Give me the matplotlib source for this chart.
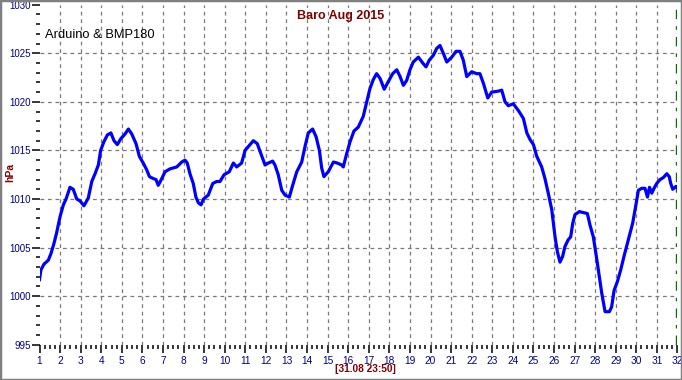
import matplotlib
matplotlib.use("Agg")
import matplotlib.pyplot as plt
from matplotlib.ticker import MultipleLocator
from matplotlib.patches import Rectangle

plt.rcParams['font.family'] = ['Liberation Sans', 'DejaVu Sans']

# day of month (fractional) and pressure in hPa
days = [1.0, 1.07, 1.22, 1.43, 1.56, 1.70, 1.83, 2.0, 2.16, 2.29, 2.48, 2.64, 2.81, 2.97,
        3.16, 3.37, 3.54, 3.70, 3.86, 3.97, 4.13, 4.30, 4.47, 4.62, 4.78, 4.95, 5.16, 5.32,
        5.48, 5.69, 5.85, 6.04, 6.21, 6.34, 6.53, 6.66, 6.77, 6.94, 7.10, 7.34, 7.67, 7.91,
        8.07, 8.18, 8.31, 8.47, 8.60, 8.72, 8.85, 8.97, 9.20, 9.42, 9.61, 9.77, 9.97, 10.22,
        10.42, 10.58, 10.82, 10.99, 11.23, 11.39, 11.58, 11.75, 11.96, 12.12, 12.33, 12.44,
        12.60, 12.77, 12.93, 13.14, 13.30, 13.50, 13.74, 13.90, 14.06, 14.27, 14.44, 14.60,
        14.71, 14.82, 15.03, 15.28, 15.47, 15.68, 15.76, 15.93, 16.09, 16.28, 16.49, 16.73,
        16.90, 17.06, 17.22, 17.38, 17.55, 17.75, 17.95, 18.16, 18.36, 18.52, 18.68, 18.84,
        19.0, 19.16, 19.41, 19.62, 19.78, 19.94, 20.14, 20.30, 20.46, 20.62, 20.79, 21.03,
        21.24, 21.43, 21.59, 21.76, 22.0, 22.24, 22.40, 22.57, 22.78, 22.97, 23.29, 23.46,
        23.62, 23.78, 24.02, 24.27, 24.51, 24.68, 24.84, 25.0, 25.16, 25.40, 25.56, 25.72,
        25.89, 26.05, 26.16, 26.29, 26.42, 26.53, 26.69, 26.81, 26.91, 27.02, 27.23, 27.42,
        27.62, 27.75, 27.91, 28.07, 28.20, 28.32, 28.48, 28.69, 28.80, 28.92, 29.08, 29.24,
        29.40, 29.61, 29.82, 29.98, 30.10, 30.26, 30.42, 30.54, 30.64, 30.75, 30.86, 30.99,
        31.15, 31.31, 31.48, 31.60, 31.67, 31.77, 31.93, 32.0]
hpa = [1001.7, 1002.7, 1003.3, 1003.7, 1004.4, 1005.4, 1006.5, 1008.2, 1009.4, 1010.0,
       1011.2, 1011.0, 1010.0, 1009.8, 1009.3, 1010.1, 1011.8, 1012.6, 1013.5, 1015.0,
       1015.9, 1016.6, 1016.8, 1016.0, 1015.6, 1016.2, 1016.7, 1017.2, 1016.7, 1015.7,
       1014.4, 1013.7, 1013.0, 1012.3, 1012.1, 1012.0, 1011.4, 1012.1, 1012.8, 1013.1,
       1013.3, 1013.8, 1014.0, 1013.7, 1012.6, 1011.6, 1010.2, 1009.6, 1009.4, 1010.0,
       1010.4, 1011.6, 1011.8, 1011.8, 1012.5, 1012.8, 1013.7, 1013.3, 1013.7, 1015.0,
       1015.6, 1016.0, 1015.7, 1014.7, 1013.5, 1013.7, 1013.9, 1013.5, 1012.5, 1010.9,
       1010.4, 1010.2, 1011.4, 1012.8, 1013.8, 1015.4, 1016.8, 1017.2, 1016.4, 1015.0,
       1013.2, 1012.3, 1012.8, 1013.8, 1013.7, 1013.5, 1013.3, 1014.7, 1015.9, 1017.0,
       1017.4, 1018.5, 1020.0, 1021.4, 1022.3, 1022.9, 1022.4, 1021.3, 1022.1, 1022.9,
       1023.3, 1022.6, 1021.7, 1022.2, 1023.3, 1024.1, 1024.6, 1024.0, 1023.6, 1024.3,
       1024.8, 1025.5, 1025.8, 1025.0, 1024.1, 1024.6, 1025.2, 1025.2, 1024.3, 1022.6,
       1023.1, 1022.9, 1022.9, 1021.9, 1020.4, 1021.0, 1021.1, 1021.2, 1020.0, 1019.6,
       1019.8, 1019.1, 1018.3, 1016.8, 1016.1, 1015.6, 1014.4, 1013.3, 1012.1, 1010.6,
       1008.9, 1006.1, 1004.6, 1003.5, 1004.1, 1005.1, 1005.8, 1006.1, 1007.5, 1008.4,
       1008.7, 1008.6, 1008.5, 1007.3, 1006.1, 1003.9, 1002.0, 1000.3, 998.4, 998.4,
       998.9, 1000.6, 1001.5, 1002.7, 1004.1, 1005.8, 1007.5, 1009.4, 1010.9, 1011.1,
       1011.1, 1010.2, 1011.2, 1010.6, 1011.1, 1011.6, 1012.0, 1012.2, 1012.6, 1012.3,
       1011.6, 1011.0, 1011.3, 1011.1]

xticks = list(range(1, 33))
yticks = list(range(995, 1031, 5))
grid_days = list(range(2, 32))
grid_hpa = list(range(1000, 1030, 5))

fig = plt.figure(figsize=(6.82, 3.80), dpi=100)
ax = fig.add_axes([39.5 / 682, 35.3 / 380, 638 / 682, 340 / 380])

for d in grid_days:
    ax.axvline(d, color='#7a7a7a', lw=0.9, linestyle=(0, (3, 3)), zorder=1)
for h in grid_hpa:
    ax.axhline(h, color='#7a7a7a', lw=0.9, linestyle=(0, (3, 3)), zorder=1)
ax.axvline(32, color='#007000', lw=1.7, linestyle=(0, (4, 3, 1.5, 3)), zorder=1)

ax.plot(days, hpa, color='#0000ff', lw=2.3, zorder=3)

ax.set_xlim(1, 32)
ax.set_ylim(995, 1030)
ax.set_xticks(xticks)
ax.set_yticks(yticks)
ax.xaxis.set_minor_locator(MultipleLocator(0.25))
ax.yaxis.set_minor_locator(MultipleLocator(1))
for s in ax.spines.values():
    s.set_visible(False)

ax.tick_params(axis='both', which='major', direction='out', length=5.8, width=1.1,
               color='black', labelcolor='#000080')
ax.tick_params(axis='both', which='minor', direction='out', length=2.9, width=1.1, color='black')
ax.tick_params(axis='y', which='major', labelsize=7, pad=0.6)
ax.tick_params(axis='x', which='major', labelsize=7.3, pad=2)

fig.text(0.5, 0.951, "Baro Aug 2015", color='#800000', fontsize=9, fontweight='bold',
         ha='center', va='baseline')
fig.text(45 / 682, 0.9, "Arduino & BMP180", color='black', fontsize=9.3,
         ha='left', va='baseline')
fig.text(10.5 / 682, 0.547, "hPa", color='#800000', fontsize=7.5, fontweight='bold',
         rotation=90, ha='center', va='center')
fig.text(365 / 682, 0.029, "[31.08 23:50]", color='#800000', fontsize=7.3, fontweight='bold',
         ha='center', va='center')

fig.patches.append(Rectangle((0, 0), 1, 1, transform=fig.transFigure, fill=False,
                             edgecolor='#808080', lw=2.5))

fig.savefig("out.png", dpi=100)
